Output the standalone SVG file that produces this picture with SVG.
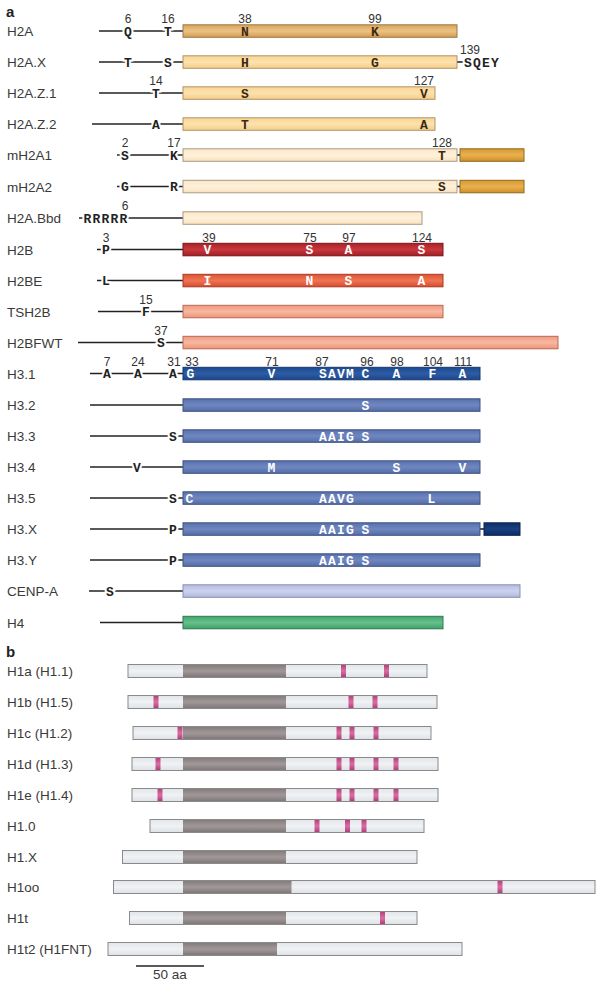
<svg xmlns="http://www.w3.org/2000/svg" width="604" height="989" viewBox="0 0 604 989">
<style>
.lab{font-family:"Liberation Sans",Arial,sans-serif;font-size:13.5px;fill:#3a3a3a}
.hd{font-family:"Liberation Sans",Arial,sans-serif;font-size:15px;font-weight:bold;fill:#222}
.num{font-family:"Liberation Sans",Arial,sans-serif;font-size:12px;fill:#333;text-anchor:middle}
.r{font-family:"Liberation Mono","Courier New",monospace;font-weight:bold;font-size:13px;fill:#222;text-anchor:middle;stroke:#fff;stroke-width:4;paint-order:stroke}
.rs{font-family:"Liberation Mono","Courier New",monospace;font-weight:bold;font-size:13px;fill:#222;stroke:#fff;stroke-width:4;paint-order:stroke;letter-spacing:1.2px}
.rd{font-family:"Liberation Mono","Courier New",monospace;font-weight:bold;font-size:13px;fill:#3a2a10;text-anchor:middle}
.rw{font-family:"Liberation Mono","Courier New",monospace;font-weight:bold;font-size:13px;fill:#fff;text-anchor:middle;letter-spacing:1.2px}
.tail{stroke:#222;stroke-width:1.6;fill:none}
.bH2A{fill:url(#gH2A);stroke:#9c7a48}
.bH2AX{fill:url(#gH2AX);stroke:#b0956a}
.bM{fill:url(#gM);stroke:#a89a85}
.bMD{fill:url(#gMD);stroke:#8e6a20}
.bH2B{fill:url(#gH2B);stroke:#7a1418}
.bH2BE{fill:url(#gH2BE);stroke:#a83a24}
.bTS{fill:url(#gTS);stroke:#b86a58}
.bH31{fill:url(#gH31);stroke:#163870}
.bH3{fill:url(#gH3);stroke:#3e5280}
.bH3X{fill:url(#gH3X);stroke:#0a2450}
.bCE{fill:url(#gCE);stroke:#8890b8}
.bH4{fill:url(#gH4);stroke:#2e7a50}
.bL{fill:url(#gL);stroke:#8a8a8a}
.bC{fill:url(#gC);stroke:none}
.bK{fill:url(#gK);stroke:none}
</style>
<defs>
<linearGradient id="gH2A" x1="0" y1="0" x2="0" y2="1"><stop offset="0" stop-color="#d9a45a"/><stop offset="0.5" stop-color="#ecc285"/><stop offset="1" stop-color="#d49c50"/></linearGradient>
<linearGradient id="gH2AX" x1="0" y1="0" x2="0" y2="1"><stop offset="0" stop-color="#f9d493"/><stop offset="0.5" stop-color="#fde2ae"/><stop offset="1" stop-color="#f5cc88"/></linearGradient>
<linearGradient id="gM" x1="0" y1="0" x2="0" y2="1"><stop offset="0" stop-color="#fce7c4"/><stop offset="0.5" stop-color="#fef1dc"/><stop offset="1" stop-color="#f9e2ba"/></linearGradient>
<linearGradient id="gMD" x1="0" y1="0" x2="0" y2="1"><stop offset="0" stop-color="#d89a2e"/><stop offset="0.5" stop-color="#e8b050"/><stop offset="1" stop-color="#cf9026"/></linearGradient>
<linearGradient id="gH2B" x1="0" y1="0" x2="0" y2="1"><stop offset="0" stop-color="#a9222a"/><stop offset="0.5" stop-color="#c8383c"/><stop offset="1" stop-color="#a21e26"/></linearGradient>
<linearGradient id="gH2BE" x1="0" y1="0" x2="0" y2="1"><stop offset="0" stop-color="#dd5436"/><stop offset="0.5" stop-color="#ee7552"/><stop offset="1" stop-color="#d84c30"/></linearGradient>
<linearGradient id="gTS" x1="0" y1="0" x2="0" y2="1"><stop offset="0" stop-color="#ee9a80"/><stop offset="0.5" stop-color="#f7b8a0"/><stop offset="1" stop-color="#ec9478"/></linearGradient>
<linearGradient id="gH31" x1="0" y1="0" x2="0" y2="1"><stop offset="0" stop-color="#1c4a90"/><stop offset="0.5" stop-color="#2e5ca4"/><stop offset="1" stop-color="#1a468a"/></linearGradient>
<linearGradient id="gH3" x1="0" y1="0" x2="0" y2="1"><stop offset="0" stop-color="#5870ae"/><stop offset="0.5" stop-color="#7088c0"/><stop offset="1" stop-color="#546ca8"/></linearGradient>
<linearGradient id="gH3X" x1="0" y1="0" x2="0" y2="1"><stop offset="0" stop-color="#0d2f6a"/><stop offset="0.5" stop-color="#1a4080"/><stop offset="1" stop-color="#0c2c64"/></linearGradient>
<linearGradient id="gCE" x1="0" y1="0" x2="0" y2="1"><stop offset="0" stop-color="#b4bce0"/><stop offset="0.5" stop-color="#cdd3ee"/><stop offset="1" stop-color="#b0b8dc"/></linearGradient>
<linearGradient id="gH4" x1="0" y1="0" x2="0" y2="1"><stop offset="0" stop-color="#44a46e"/><stop offset="0.5" stop-color="#66c08c"/><stop offset="1" stop-color="#40a06a"/></linearGradient>
<linearGradient id="gL" x1="0" y1="0" x2="0" y2="1"><stop offset="0" stop-color="#e2e6ea"/><stop offset="0.5" stop-color="#f0f2f4"/><stop offset="1" stop-color="#dde1e6"/></linearGradient>
<linearGradient id="gC" x1="0" y1="0" x2="0" y2="1"><stop offset="0" stop-color="#857c7e"/><stop offset="0.5" stop-color="#a09899"/><stop offset="1" stop-color="#807879"/></linearGradient>
<linearGradient id="gK" x1="0" y1="0" x2="0" y2="1"><stop offset="0" stop-color="#b8407e"/><stop offset="0.5" stop-color="#d870a2"/><stop offset="1" stop-color="#b23c7a"/></linearGradient>
</defs>
<rect width="604" height="989" fill="#fff"/>

<text class="hd" x="6" y="17">a</text>

<g id="H2A">
<text class="lab" x="7" y="36">H2A</text>
<line class="tail" x1="99" y1="31" x2="183" y2="31"/>
<text class="r" x="128" y="35.5">Q</text><text class="r" x="168" y="35.5">T</text>
<text class="num" x="128" y="23">6</text><text class="num" x="168" y="23">16</text><text class="num" x="245" y="23">38</text><text class="num" x="375" y="23">99</text>
<rect class="bH2A" x="183" y="24.8" width="274" height="12.5"/>
<text class="rd" x="245" y="35.5">N</text><text class="rd" x="375" y="35.5">K</text>
</g>

<g id="H2A.X">
<text class="lab" x="7" y="67">H2A.X</text>
<line class="tail" x1="99" y1="62" x2="183" y2="62"/>
<line class="tail" x1="457" y1="62" x2="465" y2="62"/>
<text class="r" x="128" y="66.5">T</text><text class="r" x="168" y="66.5">S</text>
<rect class="bH2AX" x="183" y="55.8" width="274" height="12.5"/>
<text class="rd" x="245" y="66.5">H</text><text class="rd" x="375" y="66.5">G</text>
<text class="num" x="470" y="54">139</text>
<text class="rs" x="464" y="66.5">SQEY</text>
</g>

<g id="H2A.Z.1">
<text class="lab" x="7" y="98">H2A.Z.1</text>
<line class="tail" x1="99" y1="93" x2="183" y2="93"/>
<text class="r" x="156" y="97.5">T</text>
<text class="num" x="156" y="85">14</text><text class="num" x="424" y="85">127</text>
<rect class="bH2AX" x="183" y="86.8" width="252" height="12.5"/>
<text class="rd" x="245" y="97.5">S</text><text class="rd" x="424" y="97.5">V</text>
</g>

<g id="H2A.Z.2">
<text class="lab" x="7" y="129">H2A.Z.2</text>
<line class="tail" x1="92" y1="124" x2="183" y2="124"/>
<text class="r" x="156" y="128.5">A</text>
<rect class="bH2AX" x="183" y="117.8" width="252" height="12.5"/>
<text class="rd" x="245" y="128.5">T</text><text class="rd" x="424" y="128.5">A</text>
</g>

<g id="mH2A1">
<text class="lab" x="7" y="160">mH2A1</text>
<line class="tail" x1="117" y1="155" x2="183" y2="155"/>
<line class="tail" x1="457" y1="155" x2="460" y2="155"/>
<text class="r" x="125" y="159.5">S</text><text class="r" x="174" y="159.5">K</text>
<text class="num" x="125" y="147">2</text><text class="num" x="174" y="147">17</text><text class="num" x="442" y="147">128</text>
<rect class="bM" x="183" y="148.8" width="274" height="12.5"/>
<text class="rd" x="442" y="159.5">T</text>
<rect class="bMD" x="460" y="148.8" width="64" height="12.5"/>
</g>

<g id="mH2A2">
<text class="lab" x="7" y="191.5">mH2A2</text>
<line class="tail" x1="117" y1="186.5" x2="183" y2="186.5"/>
<line class="tail" x1="457" y1="186.5" x2="460" y2="186.5"/>
<text class="r" x="125" y="191">G</text><text class="r" x="174" y="191">R</text>
<rect class="bM" x="183" y="180.3" width="274" height="12.5"/>
<text class="rd" x="442" y="191">S</text>
<rect class="bMD" x="460" y="180.3" width="64" height="12.5"/>
</g>

<g id="H2A.Bbd">
<text class="lab" x="7" y="223">H2A.Bbd</text>
<line class="tail" x1="79" y1="218" x2="183" y2="218"/>
<text class="r" x="106" y="222.5" style="letter-spacing:1.2px">RRRRR</text>
<text class="num" x="125" y="210">6</text>
<rect class="bM" x="183" y="211.8" width="239" height="12.5"/>
</g>

<g id="H2B">
<text class="lab" x="7" y="254.5">H2B</text>
<line class="tail" x1="97" y1="249.5" x2="183" y2="249.5"/>
<text class="r" x="106" y="254">P</text>
<text class="num" x="106" y="241.5">3</text><text class="num" x="209" y="241.5">39</text><text class="num" x="310" y="241.5">75</text><text class="num" x="349" y="241.5">97</text><text class="num" x="422" y="241.5">124</text>
<rect class="bH2B" x="183" y="243.3" width="260" height="12.5"/>
<text class="rw" x="208" y="254">V</text><text class="rw" x="310" y="254">S</text><text class="rw" x="349" y="254">A</text><text class="rw" x="422" y="254">S</text>
</g>

<g id="H2BE">
<text class="lab" x="7" y="285.5">H2BE</text>
<line class="tail" x1="97" y1="280.5" x2="183" y2="280.5"/>
<text class="r" x="106" y="285">L</text>
<rect class="bH2BE" x="183" y="274.3" width="260" height="12.5"/>
<text class="rw" x="208" y="285">I</text><text class="rw" x="310" y="285">N</text><text class="rw" x="349" y="285">S</text><text class="rw" x="422" y="285">A</text>
</g>

<g id="TSH2B">
<text class="lab" x="7" y="316.5">TSH2B</text>
<line class="tail" x1="98" y1="311.5" x2="183" y2="311.5"/>
<text class="r" x="146" y="316">F</text>
<text class="num" x="146" y="303.5">15</text>
<rect class="bTS" x="183" y="305.3" width="260" height="12.5"/>
</g>

<g id="H2BFWT">
<text class="lab" x="7" y="347.5">H2BFWT</text>
<line class="tail" x1="78" y1="342.5" x2="183" y2="342.5"/>
<text class="r" x="161" y="347">S</text>
<text class="num" x="161" y="334.5">37</text>
<rect class="bTS" x="183" y="336.3" width="375" height="12.5"/>
</g>

<g id="H3.1">
<text class="lab" x="7" y="378.5">H3.1</text>
<line class="tail" x1="90" y1="373.5" x2="183" y2="373.5"/>
<text class="r" x="107" y="378">A</text><text class="r" x="138" y="378">A</text><text class="r" x="173" y="378">A</text>
<text class="num" x="107" y="365.5">7</text><text class="num" x="138" y="365.5">24</text><text class="num" x="174" y="365.5">31</text><text class="num" x="192" y="365.5">33</text><text class="num" x="272" y="365.5">71</text><text class="num" x="322" y="365.5">87</text><text class="num" x="367" y="365.5">96</text><text class="num" x="397" y="365.5">98</text><text class="num" x="433" y="365.5">104</text><text class="num" x="463" y="365.5">111</text>
<rect class="bH31" x="183" y="367.3" width="297" height="12.5"/>
<text class="rw" x="191" y="378">G</text><text class="rw" x="272" y="378">V</text><text class="rw" x="337" y="378">SAVM</text><text class="rw" x="366" y="378">C</text><text class="rw" x="397" y="378">A</text><text class="rw" x="433" y="378">F</text><text class="rw" x="463" y="378">A</text>
</g>

<g id="H3.2">
<text class="lab" x="7" y="410">H3.2</text>
<line class="tail" x1="90" y1="405" x2="183" y2="405"/>
<rect class="bH3" x="183" y="398.8" width="297" height="12.5"/>
<text class="rw" x="366" y="409.5">S</text>
</g>

<g id="H3.3">
<text class="lab" x="7" y="441">H3.3</text>
<line class="tail" x1="90" y1="436" x2="183" y2="436"/>
<text class="r" x="173" y="440.5">S</text>
<rect class="bH3" x="183" y="429.8" width="297" height="12.5"/>
<text class="rw" x="337" y="440.5">AAIG</text><text class="rw" x="366" y="440.5">S</text>
</g>

<g id="H3.4">
<text class="lab" x="7" y="472">H3.4</text>
<line class="tail" x1="90" y1="467" x2="183" y2="467"/>
<text class="r" x="137" y="471.5">V</text>
<rect class="bH3" x="183" y="460.8" width="297" height="12.5"/>
<text class="rw" x="272" y="471.5">M</text><text class="rw" x="397" y="471.5">S</text><text class="rw" x="463" y="471.5">V</text>
</g>

<g id="H3.5">
<text class="lab" x="7" y="503">H3.5</text>
<line class="tail" x1="90" y1="498" x2="183" y2="498"/>
<text class="r" x="173" y="502.5">S</text>
<rect class="bH3" x="183" y="491.8" width="297" height="12.5"/>
<text class="rw" x="190" y="502.5">C</text><text class="rw" x="337" y="502.5">AAVG</text><text class="rw" x="432" y="502.5">L</text>
</g>

<g id="H3.X">
<text class="lab" x="7" y="534">H3.X</text>
<line class="tail" x1="90" y1="529" x2="183" y2="529"/>
<line class="tail" x1="480" y1="529" x2="484" y2="529"/>
<text class="r" x="173" y="533.5">P</text>
<rect class="bH3" x="183" y="522.8" width="297" height="12.5"/>
<text class="rw" x="337" y="533.5">AAIG</text><text class="rw" x="366" y="533.5">S</text>
<rect class="bH3X" x="484" y="522.8" width="36" height="12.5"/>
</g>

<g id="H3.Y">
<text class="lab" x="7" y="565">H3.Y</text>
<line class="tail" x1="90" y1="560" x2="183" y2="560"/>
<text class="r" x="173" y="564.5">P</text>
<rect class="bH3" x="183" y="553.8" width="297" height="12.5"/>
<text class="rw" x="337" y="564.5">AAIG</text><text class="rw" x="366" y="564.5">S</text>
</g>

<g id="CENP-A">
<text class="lab" x="7" y="596">CENP-A</text>
<line class="tail" x1="89" y1="591" x2="183" y2="591"/>
<text class="r" x="110" y="595.5">S</text>
<rect class="bCE" x="183" y="584.8" width="337" height="12.5"/>
</g>

<g id="H4">
<text class="lab" x="7" y="627.5">H4</text>
<line class="tail" x1="100" y1="622.5" x2="183" y2="622.5"/>
<rect class="bH4" x="183" y="616.3" width="260" height="12.5"/>
</g>

<text class="hd" x="6" y="657">b</text>

<g id="H1a">
<text class="lab" x="7" y="676">H1a (H1.1)</text>
<rect class="bL" x="128" y="664.5" width="299" height="13"/>
<rect class="bC" x="183" y="665" width="103" height="12"/>
<rect class="bK" x="341" y="665" width="5" height="12"/><rect class="bK" x="384" y="665" width="5" height="12"/>
</g>

<g id="H1b">
<text class="lab" x="7" y="707">H1b (H1.5)</text>
<rect class="bL" x="128" y="695.5" width="309" height="13"/>
<rect class="bC" x="183" y="696" width="103" height="12"/>
<rect class="bK" x="153.5" y="696" width="5" height="12"/><rect class="bK" x="348.5" y="696" width="5" height="12"/><rect class="bK" x="372.5" y="696" width="5" height="12"/>
</g>

<g id="H1c">
<text class="lab" x="7" y="738">H1c (H1.2)</text>
<rect class="bL" x="133" y="726.5" width="298" height="13"/>
<rect class="bC" x="183" y="727" width="103" height="12"/>
<rect class="bK" x="177.5" y="727" width="5" height="12"/><rect class="bK" x="336.5" y="727" width="5" height="12"/><rect class="bK" x="349.5" y="727" width="5" height="12"/><rect class="bK" x="373.5" y="727" width="5" height="12"/>
</g>

<g id="H1d">
<text class="lab" x="7" y="769">H1d (H1.3)</text>
<rect class="bL" x="132" y="757.5" width="306" height="13"/>
<rect class="bC" x="183" y="758" width="103" height="12"/>
<rect class="bK" x="155.5" y="758" width="5" height="12"/><rect class="bK" x="336.5" y="758" width="5" height="12"/><rect class="bK" x="349.5" y="758" width="5" height="12"/><rect class="bK" x="373.5" y="758" width="5" height="12"/><rect class="bK" x="393.5" y="758" width="5" height="12"/>
</g>

<g id="H1e">
<text class="lab" x="7" y="800">H1e (H1.4)</text>
<rect class="bL" x="132" y="788.5" width="306" height="13"/>
<rect class="bC" x="183" y="789" width="103" height="12"/>
<rect class="bK" x="157.5" y="789" width="5" height="12"/><rect class="bK" x="336.5" y="789" width="5" height="12"/><rect class="bK" x="349.5" y="789" width="5" height="12"/><rect class="bK" x="373.5" y="789" width="5" height="12"/><rect class="bK" x="393.5" y="789" width="5" height="12"/>
</g>

<g id="H1.0">
<text class="lab" x="7" y="831">H1.0</text>
<rect class="bL" x="150" y="819.5" width="274" height="13"/>
<rect class="bC" x="183" y="820" width="103" height="12"/>
<rect class="bK" x="314.5" y="820" width="5" height="12"/><rect class="bK" x="345" y="820" width="5" height="12"/><rect class="bK" x="361.5" y="820" width="5" height="12"/>
</g>

<g id="H1.X">
<text class="lab" x="7" y="862">H1.X</text>
<rect class="bL" x="122.5" y="850.5" width="294.5" height="13"/>
<rect class="bC" x="183" y="851" width="103" height="12"/>
</g>

<g id="H1oo">
<text class="lab" x="7" y="892">H1oo</text>
<rect class="bL" x="113.5" y="880.5" width="481.5" height="13"/>
<rect class="bC" x="183" y="881" width="108.5" height="12"/>
<rect class="bK" x="497.5" y="881" width="5" height="12"/>
</g>

<g id="H1t">
<text class="lab" x="7" y="923">H1t</text>
<rect class="bL" x="129.5" y="911.5" width="287.5" height="13"/>
<rect class="bC" x="183" y="912" width="103" height="12"/>
<rect class="bK" x="380" y="912" width="5" height="12"/>
</g>

<g id="H1t2">
<text class="lab" x="7" y="954">H1t2 (H1FNT)</text>
<rect class="bL" x="108" y="942.5" width="354" height="13"/>
<rect class="bC" x="183" y="943" width="94" height="12"/>
</g>

<g id="scale">
<line x1="136" y1="966" x2="204" y2="966" stroke="#222" stroke-width="1.6"/>
<text class="lab" x="170" y="979" text-anchor="middle">50 aa</text>
</g>
</svg>
